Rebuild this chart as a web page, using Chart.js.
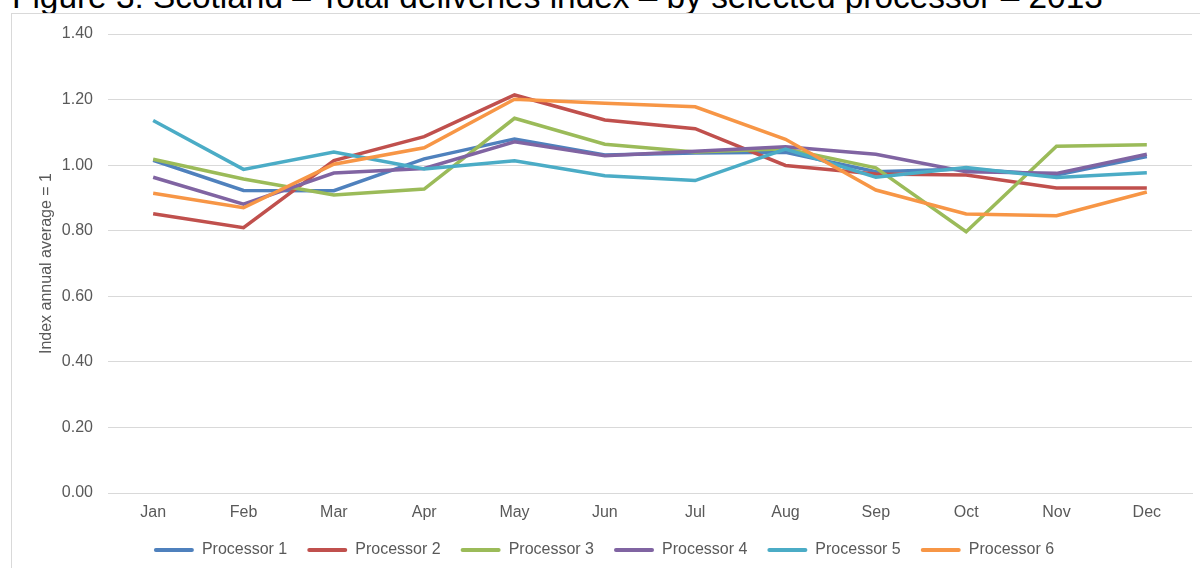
<!DOCTYPE html>
<html>
<head>
<meta charset="utf-8">
<script src="https://cdn.jsdelivr.net/npm/chart.js@4/dist/chart.umd.min.js"></script>
<style>
  html, body { margin: 0; padding: 0; background: #fff; overflow: hidden; }
  #title {
    position: absolute; left: 12px; top: -20px;
    font: 33.4px/33px "Liberation Sans", Arial, sans-serif;
    color: #000; white-space: nowrap;
  }
  #frame {
    position: absolute; left: 11px; top: 13px; width: 1300px; height: 700px;
    border: 1px solid #d9d9d9; background: #fff;
  }
  #wrap { position: absolute; left: 0; top: 0; width: 1200px; height: 568px; }
</style>
</head>
<body>
<div id="title">Figure 3: Scotland – Total deliveries index – by selected processor – 2013</div>
<div id="frame"></div>
<div id="wrap"><canvas id="chart"></canvas></div>
<script>
var months = ['Jan', 'Feb', 'Mar', 'Apr', 'May', 'Jun', 'Jul', 'Aug', 'Sep', 'Oct', 'Nov', 'Dec'];
var seriesNames = ['Processor 1', 'Processor 2', 'Processor 3', 'Processor 4', 'Processor 5', 'Processor 6'];
var seriesColors = ['#4f81bd', '#c0504d', '#9bbb59', '#8064a2', '#4bacc6', '#f79646'];

var processor1 = [1.015, 0.923, 0.922, 1.019, 1.080, 1.031, 1.037, 1.039, 0.980, 0.988, 0.970, 1.026];
var processor2 = [0.852, 0.809, 1.014, 1.087, 1.214, 1.138, 1.111, 0.999, 0.973, 0.970, 0.930, 0.930];
var processor3 = [1.018, 0.958, 0.909, 0.927, 1.143, 1.064, 1.040, 1.050, 0.992, 0.797, 1.058, 1.062];
var processor4 = [0.963, 0.881, 0.976, 0.990, 1.071, 1.029, 1.042, 1.056, 1.033, 0.980, 0.975, 1.033];
var processor5 = [1.136, 0.987, 1.040, 0.988, 1.013, 0.968, 0.953, 1.049, 0.963, 0.993, 0.962, 0.977];
var processor6 = [0.914, 0.870, 1.003, 1.053, 1.201, 1.189, 1.178, 1.079, 0.924, 0.851, 0.846, 0.918];

var allSeries = [processor1, processor2, processor3, processor4, processor5, processor6];
var font = '"Liberation Sans", Arial, sans-serif';
var grey = '#595959';

var datasets = allSeries.map(function(values, i){
  return {
    label: seriesNames[i],
    data: values,
    borderColor: seriesColors[i],
    backgroundColor: seriesColors[i],
    borderWidth: 3.5,
    pointRadius: 0,
    tension: 0,
    fill: false,
    // later series sit on top, like the spreadsheet draws them
    order: allSeries.length - i
  };
});

new Chart(document.getElementById('chart').getContext('2d'), {
  type: 'line',
  data: { labels: months, datasets: datasets },
  options: {
    responsive: true,
    maintainAspectRatio: false,
    animation: false,
    layout: { padding: { left: 16, right: 8, top: 34, bottom: 0 } },
    plugins: {
      tooltip: { enabled: false },
      legend: {
        position: 'bottom',
        labels: {
          font: { family: font, size: 16 },
          color: grey,
          boxWidth: 40,
          boxHeight: 4,
          padding: 20,
          useBorderRadius: true,
          borderRadius: 2,
          generateLabels: function(chart){
            var items = Chart.defaults.plugins.legend.labels.generateLabels(chart);
            items.forEach(function(it){
              it.fillStyle = it.strokeStyle;
              it.lineWidth = 0;
            });
            return items;
          },
          sort: function(a, b){ return a.datasetIndex - b.datasetIndex; }
        }
      }
    },
    scales: {
      x: {
        offset: true,
        grid: { display: false, drawTicks: false },
        border: { display: true, color: '#d9d9d9', width: 1 },
        ticks: { font: { family: font, size: 16 }, color: grey, padding: 10, maxRotation: 0 },
        afterFit: function(s){ s.height = 29; }
      },
      y: {
        min: 0,
        max: 1.4,
        grid: { color: '#d9d9d9', lineWidth: 1, drawTicks: false },
        border: { display: false },
        ticks: {
          stepSize: 0.2,
          font: { family: font, size: 16 },
          color: grey,
          padding: 15,
          callback: function(v){ return v.toFixed(2); }
        },
        title: {
          display: true,
          text: 'Index annual average = 1',
          font: { family: font, size: 16 },
          color: grey,
          padding: { top: 21, bottom: 0 }
        },
        afterFit: function(s){ s.width = 92; }
      }
    }
  }
});
</script>
</body>
</html>
